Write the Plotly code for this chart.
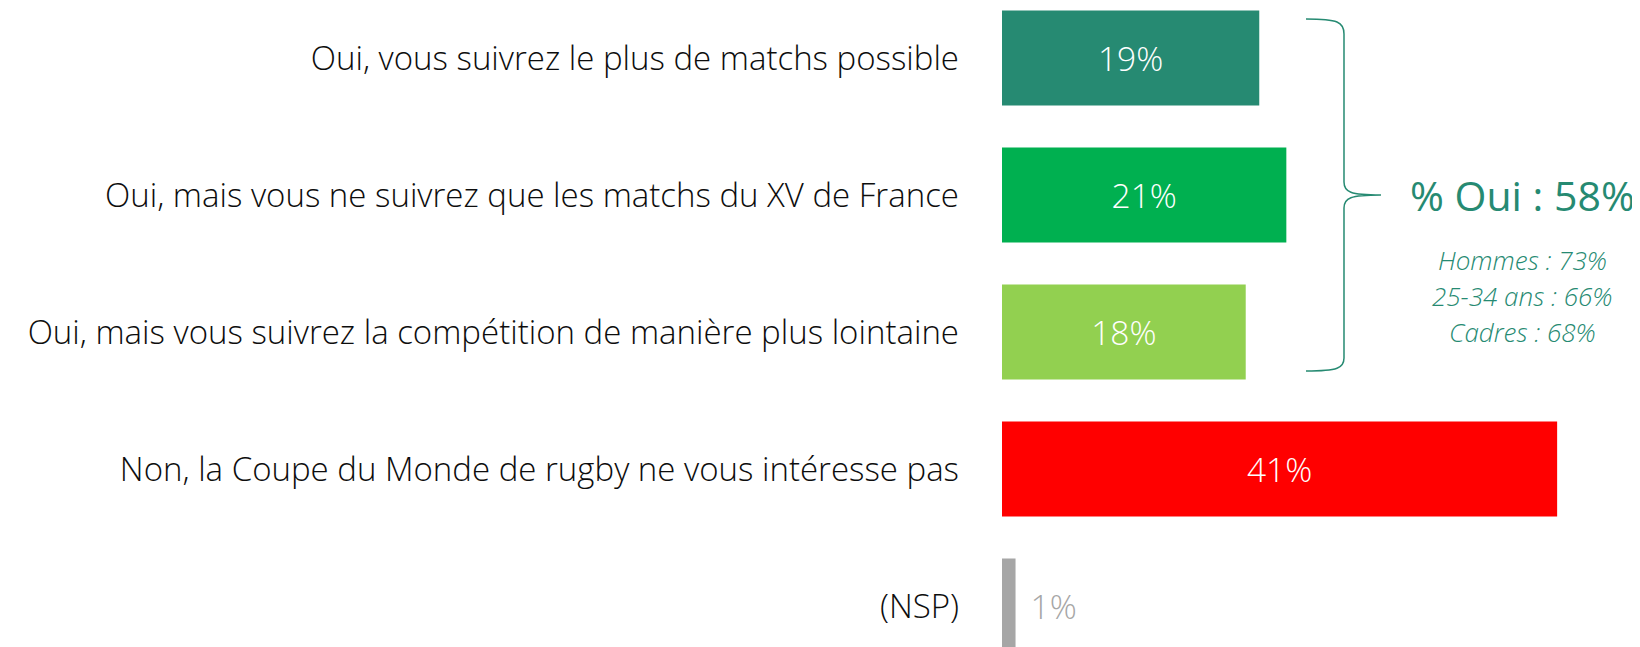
import plotly.graph_objects as go

categories = [
    "Oui, vous suivrez le plus de matchs possible",
    "Oui, mais vous ne suivrez que les matchs du XV de France",
    "Oui, mais vous suivrez la compétition de manière plus lointaine",
    "Non, la Coupe du Monde de rugby ne vous intéresse pas",
    "(NSP)",
]
values = [19, 21, 18, 41, 1]
bar_colors = ["#268A72", "#00B050", "#92D050", "#FF0000", "#A6A6A6"]
text_colors = ["#FFFFFF", "#FFFFFF", "#FFFFFF", "#FFFFFF", "#A6A6A6"]
total_label = "% Oui : 58%"
sub_labels = ["Hommes : 73%", "25-34 ans : 66%", "Cadres : 68%"]

# page body has an 8px margin; figure drawn inside it
OFF = 8
W, H = 1640 - OFF, 647 - OFF
L = 1002 - OFF
px_per_unit = 13.54
xmax = (W - L) / px_per_unit
spacing = 137.0
first_center = 58.0 - OFF
y_top = -first_center / spacing
y_bot = (H - first_center) / spacing

FONT = "Open Sans"
TEAL = "#268A72"

positions = list(range(len(categories)))

fig = go.Figure()
fig.add_trace(go.Bar(
    x=values,
    y=positions,
    orientation="h",
    width=95 / spacing,
    marker=dict(color=bar_colors, line=dict(width=0)),
    text=[f"{v}%" for v in values[:-1]] + [f"\u00a0\u200a{values[-1]}%"],
    textposition=["inside"] * (len(values) - 1) + ["outside"],
    insidetextanchor="middle",
    textangle=0,
    textfont=dict(family=FONT, size=33.5, color=text_colors, weight=300),
    cliponaxis=False,
    hoverinfo="skip",
))


def px(x):
    return (x - OFF - L) / (W - L)


def py(y):
    return 1 - (y - OFF) / H


def pt(x, y):
    return f"{px(x):.5f},{py(y):.5f}"


path = (
    f"M {pt(1306,19)} C {pt(1338,19)} {pt(1344,22)} {pt(1344,34)} "
    f"L {pt(1344,182)} C {pt(1344,192)} {pt(1350,195)} {pt(1381,195)} "
    f"C {pt(1350,195)} {pt(1344,198)} {pt(1344,208)} "
    f"L {pt(1344,358)} C {pt(1344,368)} {pt(1338,371)} {pt(1306,371)}"
)
fig.add_shape(type="path", path=path, xref="paper", yref="paper",
              line=dict(color=TEAL, width=1.5))

fig.add_annotation(xref="paper", yref="paper", x=px(1522), y=py(195),
                   text=total_label, showarrow=False, xanchor="center", yanchor="middle",
                   font=dict(family=FONT, size=41, color=TEAL, weight=500))
for i, s in enumerate(sub_labels):
    fig.add_annotation(xref="paper", yref="paper", x=px(1522), y=py(260 + 36 * i),
                       text=f"<i>{s}</i>", showarrow=False, xanchor="center", yanchor="middle",
                       font=dict(family=FONT, size=26, color=TEAL, weight=300))

fig.update_layout(
    width=W, height=H,
    margin=dict(l=L, r=0, t=0, b=0, pad=0),
    paper_bgcolor="white", plot_bgcolor="white",
    showlegend=False,
    xaxis=dict(range=[0, xmax], visible=False, fixedrange=True),
    yaxis=dict(range=[y_bot, y_top], tickvals=positions, ticktext=categories,
               showgrid=False, zeroline=False, showline=False, ticks="",
               ticklabelstandoff=42,
               tickfont=dict(family=FONT, size=33, color="#0D0D0D", weight=300)),
)

fig.write_html("out.html")
